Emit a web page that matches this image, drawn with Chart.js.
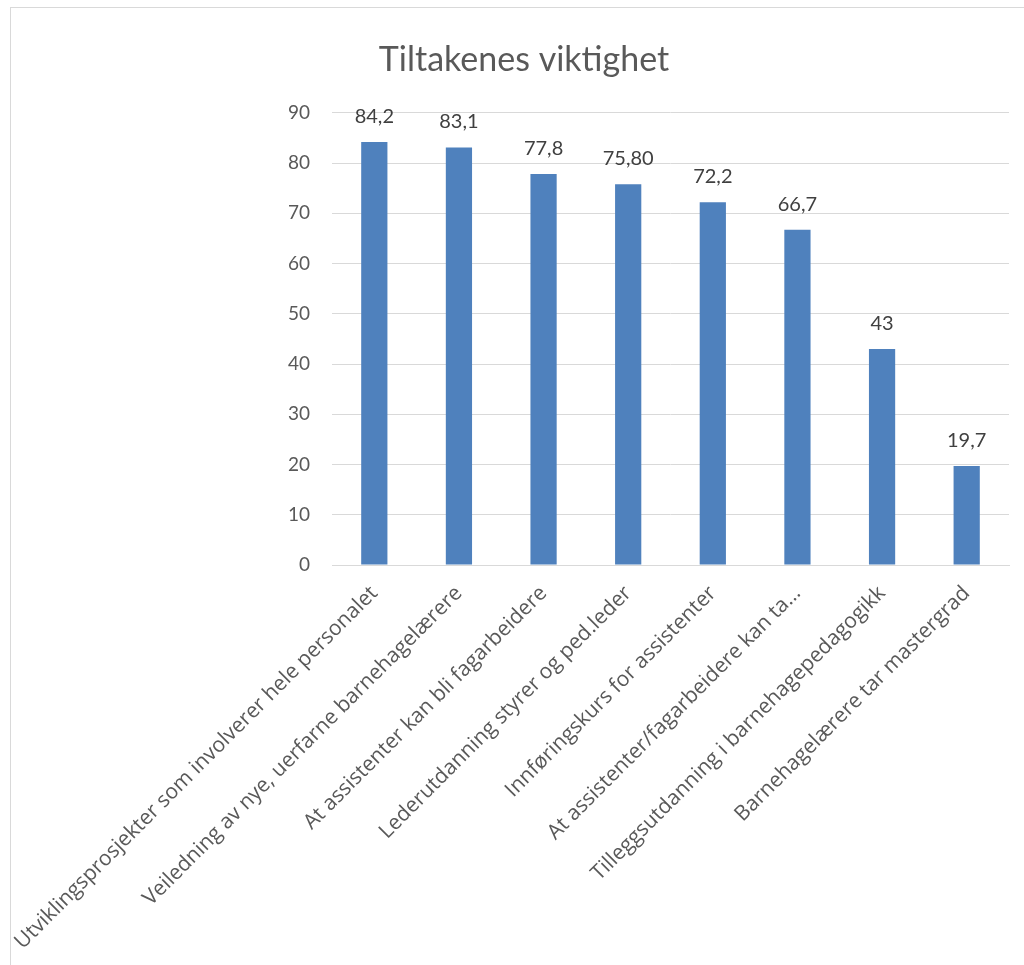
<!DOCTYPE html>
<html lang="no">
<head>
<meta charset="UTF-8">
<title>Tiltakenes viktighet</title>
<style>
  html, body { margin: 0; padding: 0; background: #fff; overflow: hidden; }
  .ramme {
    position: absolute; left: 10px; top: 7px;
    width: 1030px; height: 980px;
    border: 1px solid #d9d9d9;
  }
  .boks { position: absolute; left: 0; top: 0; width: 1013px; height: 958px; }
</style>
</head>
<body>
<div class="ramme">
  <div class="boks"><canvas id="tiltak"></canvas></div>
</div>

<script src="https://cdn.jsdelivr.net/npm/chart.js"></script>
<script>
// kategorier og verdier
const kategorier = [
  'Utviklingsprosjekter som involverer hele personalet',
  'Veiledning av nye, uerfarne barnehagelærere',
  'At assistenter kan bli fagarbeidere',
  'Lederutdanning styrer og ped.leder',
  'Innføringskurs for assistenter',
  'At assistenter/fagarbeidere kan ta…',
  'Tilleggsutdanning i barnehagepedagogikk',
  'Barnehagelærere tar mastergrad'
];
const verdier = [84.2, 83.1, 77.8, 75.8, 72.2, 66.7, 43, 19.7];
const verdiTekst = ['84,2', '83,1', '77,8', '75,80', '72,2', '66,7', '43', '19,7'];
const yTicks = [0, 10, 20, 30, 40, 50, 60, 70, 80, 90];

// skriver verdien over hver søyle
const verdiEtiketter = {
  id: 'verdiEtiketter',
  afterDatasetsDraw(chart) {
    const c = chart.ctx;
    const meta = chart.getDatasetMeta(0);
    c.save();
    c.font = '20px Lato';
    c.fillStyle = '#404040';
    c.textAlign = 'center';
    c.textBaseline = 'alphabetic';
    meta.data.forEach((bar, i) => {
      c.fillText(verdiTekst[i], bar.x, bar.y - 19);
    });
    c.restore();
  }
};

function tegn() {
  new Chart(document.getElementById('tiltak'), {
    type: 'bar',
    data: {
      labels: kategorier,
      datasets: [{
        data: verdier,
        backgroundColor: '#4f81bd',
        categoryPercentage: 1,
        barPercentage: 0.31
      }]
    },
    options: {
      responsive: true,
      maintainAspectRatio: false,
      animation: false,
      layout: { padding: { top: 0, right: 15, bottom: 0, left: 28 } },
      plugins: {
        legend: { display: false },
        tooltip: { enabled: false },
        title: {
          display: true,
          text: 'Tiltakenes viktighet',
          color: '#595959',
          font: { family: 'Lato', size: 34, weight: 'normal' },
          padding: { top: 32, bottom: 32 }
        }
      },
      scales: {
        x: {
          grid: { display: false },
          border: { display: true, color: '#d9d9d9' },
          ticks: {
            color: '#595959',
            font: { family: '"Open Sans"', size: 21 },
            minRotation: 45,
            maxRotation: 45,
            autoSkip: false,
            padding: 8
          },
          afterFit(s) {
            s.height = 401;
            s.paddingLeft = 0;
            s.paddingRight = 0;
          }
        },
        y: {
          min: 0,
          max: 90,
          afterBuildTicks(s) { s.ticks = yTicks.map(v => ({ value: v })); },
          grid: { color: '#d9d9d9', drawTicks: false },
          border: { display: false },
          ticks: {
            color: '#595959',
            font: { family: 'Lato', size: 19 },
            padding: 22
          },
          afterFit(s) { s.width = 293; }
        }
      }
    },
    plugins: [verdiEtiketter]
  });
}

Promise.all([
  document.fonts.load('21px "Open Sans"'),
  document.fonts.load('20px Lato')
]).then(tegn, tegn);
</script>
</body>
</html>
